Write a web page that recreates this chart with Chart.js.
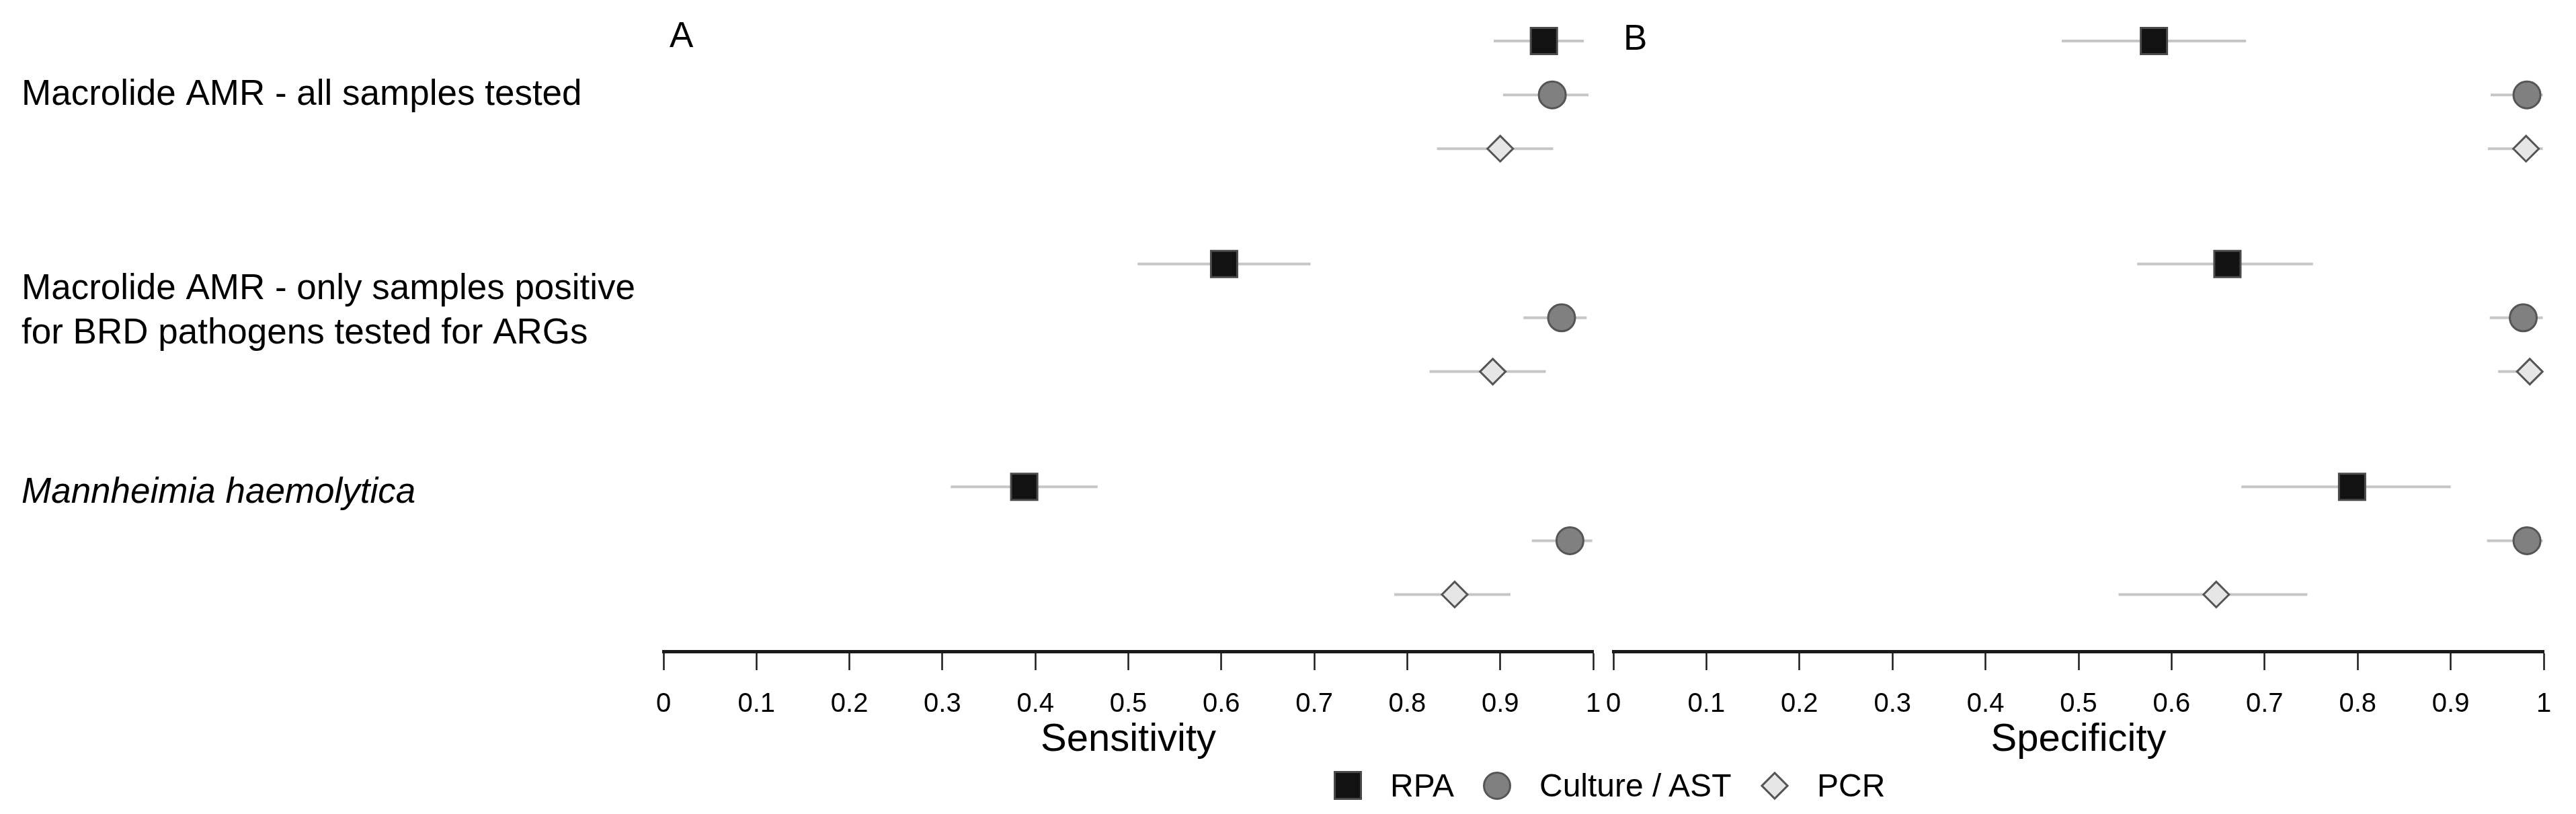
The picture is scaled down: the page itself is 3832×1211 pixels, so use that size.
<!DOCTYPE html>
<html><head><meta charset="utf-8">
<script src="https://cdn.jsdelivr.net/npm/chart.js@4.4.0/dist/chart.umd.min.js"></script>
<style>
html,body{margin:0;padding:0;background:#fff;width:3832px;height:1211px;overflow:hidden;}
#wrap{position:relative;width:3832px;height:1211px;background:#fff;}
canvas{position:absolute;top:0;}
#cA{left:0;}
#cB{left:2380px;}
.leg{position:absolute;top:1147px;height:43px;display:flex;align-items:center;gap:42px;font-family:'Liberation Sans',Arial,sans-serif;font-size:48px;line-height:1;color:#000;white-space:nowrap;}
.mk{box-sizing:border-box;width:42px;height:43px;border:3px solid #4a4a4a;}
.dwrap{width:42px;height:43px;display:flex;align-items:center;justify-content:center;}
.dia{box-sizing:border-box;width:30px;height:30px;transform:rotate(45deg);background:#e6e6e6;border:3px solid #555;}
</style></head><body>
<div id="wrap">
<canvas id="cA" width="2390" height="1211"></canvas>
<canvas id="cB" width="1452" height="1211"></canvas>
<div id="legend"></div>
</div>
<script>
// ---------------- data ----------------
const groupLabels = [
  'Macrolide AMR - all samples tested',
  ['Macrolide AMR - only samples positive', 'for BRD pathogens tested for ARGs'],
  'Mannheimia haemolytica'
];
const methods = ['RPA', 'Culture / AST', 'PCR'];
const xTickLabels = ['0','0.1','0.2','0.3','0.4','0.5','0.6','0.7','0.8','0.9','1'];

// Sensitivity (panel A): estimate, lower, upper per group
const sensRPA      = [0.947, 0.603, 0.388];
const sensRPALow   = [0.893, 0.510, 0.309];
const sensRPAHigh  = [0.990, 0.696, 0.467];
const sensAST      = [0.956, 0.966, 0.975];
const sensASTLow   = [0.903, 0.925, 0.934];
const sensASTHigh  = [0.995, 0.993, 0.999];
const sensPCR      = [0.900, 0.892, 0.851];
const sensPCRLow   = [0.832, 0.824, 0.786];
const sensPCRHigh  = [0.957, 0.949, 0.911];

// Specificity (panel B)
const specRPA      = [0.581, 0.660, 0.794];
const specRPALow   = [0.482, 0.563, 0.675];
const specRPAHigh  = [0.680, 0.752, 0.900];
const specAST      = [0.982, 0.978, 0.982];
const specASTLow   = [0.943, 0.942, 0.939];
const specASTHigh  = [0.999, 0.999, 0.999];
const specPCR      = [0.981, 0.985, 0.648];
const specPCRLow   = [0.940, 0.951, 0.543];
const specPCRHigh  = [0.999, 0.999, 0.746];

// ---------------- layout helpers ----------------
const FONT = "'Liberation Sans', Arial, sans-serif";
Chart.defaults.font.family = FONT;
Chart.defaults.color = '#000';

const groupStep = 4.14;               // spacing between groups in row units
const rowPos = (g, m) => g * groupStep + m;
const labelPos = [1.0, 5.02, 8.39];   // y positions of group labels
const Y_MIN = -0.762, Y_MAX = 11.335;

const markerStyles = [
  {pointStyle: 'rect',    radius: 27.6, bg: '#121212', border: '#4a4a4a'},
  {pointStyle: 'circle',  radius: 20,   bg: '#808080', border: '#555555'},
  {pointStyle: 'rectRot', radius: 19,   bg: '#e6e6e6', border: '#555555'}
];

const panelLetter = {
  id: 'panelLetter',
  afterDraw(chart, args, opts) {
    const c = chart.ctx;
    c.save();
    c.font = '53px ' + FONT;
    c.fillStyle = '#000';
    c.textBaseline = 'alphabetic';
    c.textAlign = 'left';
    c.fillText(opts.text, chart.chartArea.left + opts.dx, opts.y);
    c.restore();
  }
};

function makePanel(id, est, lo, hi, title, letter, showY, pad) {
  const datasets = [];
  // confidence-interval segments
  for (let m = 0; m < 3; m++) {
    for (let g = 0; g < 3; g++) {
      datasets.push({
        type: 'scatter',
        label: 'CI',
        data: [{x: lo[m][g], y: rowPos(g, m)}, {x: hi[m][g], y: rowPos(g, m)}],
        showLine: true,
        pointRadius: 0,
        borderColor: '#c6c6c6',
        borderWidth: 4,
        order: 10
      });
    }
  }
  // point estimates
  for (let m = 0; m < 3; m++) {
    const st = markerStyles[m];
    datasets.push({
      type: 'scatter',
      label: methods[m],
      data: est[m].map((v, g) => ({x: v, y: rowPos(g, m)})),
      pointStyle: st.pointStyle,
      pointRadius: st.radius,
      backgroundColor: st.bg,
      borderColor: st.border,
      borderWidth: 3,
      showLine: false,
      order: m
    });
  }
  return new Chart(document.getElementById(id), {
    type: 'scatter',
    data: {datasets},
    plugins: [panelLetter],
    options: {
      responsive: false,
      animation: false,
      events: [],
      layout: {padding: pad, autoPadding: false},
      plugins: {
        legend: {display: false},
        tooltip: {enabled: false},
        panelLetter: letter
      },
      scales: {
        x: {
          type: 'linear', min: 0, max: 1, position: 'bottom', offset: false,
          ticks: {stepSize: 0.1, autoSkip: false, maxRotation: 0, padding: 27,
                  color: '#000', font: {size: 40},
                  callback: (v, i) => xTickLabels[i]},
          grid: {display: true, drawOnChartArea: false, drawTicks: true, offset: false,
                 tickLength: 28, tickWidth: 2.5, tickColor: '#1a1a1a'},
          border: {display: true, width: 5, color: '#1a1a1a'},
          title: {display: true, text: title, color: '#000', font: {size: 58},
                  padding: {top: 0, bottom: 75}},
          afterFit: (s) => { s.height = 242; s.paddingLeft = 0; s.paddingRight = 0; }
        },
        y: {
          type: 'linear', min: Y_MIN, max: Y_MAX, reverse: true, display: showY, offset: false,
          grid: {display: false, offset: false}, border: {display: false},
          ticks: {
            autoSkip: false, crossAlign: 'far', padding: 0, color: '#000',
            font: (ctx) => ({size: 53, lineHeight: 1.24, family: FONT,
                             style: ctx.index === 2 ? 'italic' : 'normal'}),
            callback: (v, i) => groupLabels[i]
          },
          afterBuildTicks: (s) => { s.ticks = labelPos.map(v => ({value: v})); },
          afterFit: (s) => { s.width = showY ? 955 : 0; s.paddingTop = 0; s.paddingBottom = 0; }
        }
      }
    }
  });
}

makePanel('cA',
  [sensRPA, sensAST, sensPCR],
  [sensRPALow, sensASTLow, sensPCRLow],
  [sensRPAHigh, sensASTHigh, sensPCRHigh],
  'Sensitivity', {text: 'A', dx: 9, y: 70}, true,
  {left: 32, right: 20, top: 0, bottom: 0});

makePanel('cB',
  [specRPA, specAST, specPCR],
  [specRPALow, specASTLow, specPCRLow],
  [specRPAHigh, specASTHigh, specPCRHigh],
  'Specificity', {text: 'B', dx: 15, y: 74}, false,
  {left: 20, right: 48, top: 0, bottom: 0});

// ---------------- legend ----------------
const legendLefts = [1984, 2206, 2619];
const legend = document.getElementById('legend');
methods.forEach((name, m) => {
  const item = document.createElement('div');
  item.className = 'leg';
  item.style.left = legendLefts[m] + 'px';
  let mk;
  if (m === 2) {
    mk = document.createElement('div');
    mk.className = 'dwrap';
    const d = document.createElement('div');
    d.className = 'dia';
    mk.appendChild(d);
  } else {
    mk = document.createElement('div');
    mk.className = 'mk';
    mk.style.background = markerStyles[m].bg;
    mk.style.borderColor = markerStyles[m].border;
    if (m === 1) { mk.style.borderRadius = '50%'; mk.style.height = '42px'; }
  }
  const t = document.createElement('span');
  t.textContent = name;
  item.appendChild(mk);
  item.appendChild(t);
  legend.appendChild(item);
});
</script>
</body></html>
